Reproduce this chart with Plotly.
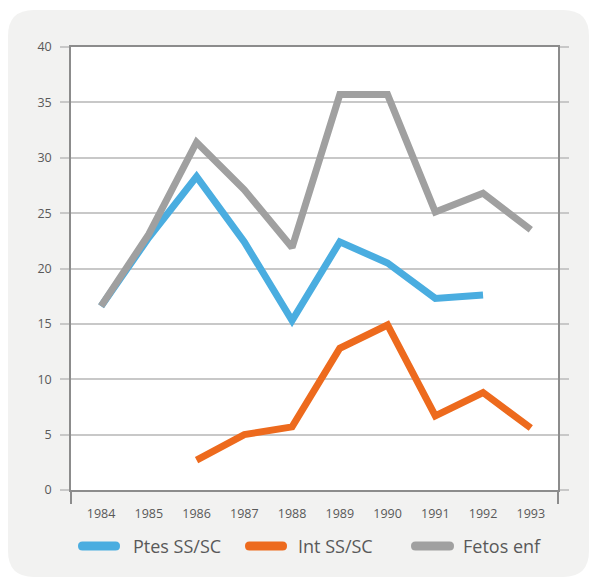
import plotly.graph_objects as go

# Yearly series
years = [1984, 1985, 1986, 1987, 1988, 1989, 1990, 1991, 1992, 1993]
ptes_ss_sc = [16.6, 22.8, 28.3, 22.4, 15.3, 22.4, 20.5, 17.3, 17.6, None]
int_ss_sc = [None, None, 2.7, 5.0, 5.7, 12.8, 14.9, 6.7, 8.8, 5.6]
fetos_enf = [16.6, 23.1, 31.4, 27.1, 21.9, 35.7, 35.7, 25.1, 26.8, 23.5]

series = [
    ("Ptes SS/SC", ptes_ss_sc, "#4aade0"),
    ("Int SS/SC", int_ss_sc, "#ed6a1d"),
    ("Fetos enf", fetos_enf, "#a0a0a0"),
]

W, H = 589, 577
ML, MR, MT, MB = 71, 31, 47, 87
pw, ph = W - ML - MR, H - MT - MB

def px(x):
    return (x - ML) / pw

def py(y):
    return (H - MB - y) / ph

fig = go.Figure()
for name, vals, color in series:
    fig.add_trace(go.Scatter(
        x=years, y=vals, name=name, mode="lines",
        line=dict(color=color, width=7),
        connectgaps=False, showlegend=False,
    ))

def rounded_rect(x0, y0, x1, y1, r):
    return (
        f"M {px(x0 + r)},{py(y0)} L {px(x1 - r)},{py(y0)} "
        f"Q {px(x1)},{py(y0)} {px(x1)},{py(y0 + r)} "
        f"L {px(x1)},{py(y1 - r)} Q {px(x1)},{py(y1)} {px(x1 - r)},{py(y1)} "
        f"L {px(x0 + r)},{py(y1)} Q {px(x0)},{py(y1)} {px(x0)},{py(y1 - r)} "
        f"L {px(x0)},{py(y0 + r)} Q {px(x0)},{py(y0)} {px(x0 + r)},{py(y0)} Z"
    )

# Rounded light panel behind the chart, then the white plotting area
fig.add_shape(type="path", path=rounded_rect(8, 10, 589, 577, 26),
              xref="paper", yref="paper",
              fillcolor="#f2f2f1", line=dict(width=0), layer="below")
fig.add_shape(type="rect", x0=0, x1=1, y0=0, y1=1, xref="paper", yref="paper",
              fillcolor="white", line=dict(width=0), layer="below")

# Legend row: rounded swatches with labels
font = "Open Sans, DejaVu Sans, sans-serif"
legend_x = [(78, 120, 131), (245, 287, 296), (411, 454, 461)]
ly = 546
for (name, _, color), (sx0, sx1, tx) in zip(series, legend_x):
    fig.add_shape(type="path", path=rounded_rect(sx0, ly - 4.5, sx1, ly + 4.5, 4.5),
                  xref="paper", yref="paper", fillcolor=color,
                  line=dict(width=0), layer="above")
    fig.add_annotation(text=name, x=px(tx), y=py(ly), xref="paper", yref="paper",
                       xanchor="left", yanchor="middle", showarrow=False,
                       font=dict(size=18, color="#595959", family=font))

fig.update_layout(
    width=W, height=H,
    margin=dict(l=ML, r=MR, t=MT, b=MB),
    paper_bgcolor="white", plot_bgcolor="white",
    font=dict(family=font, color="#595959", size=12),
    showlegend=False,
    xaxis=dict(
        range=[1983.37, 1993.57],
        tickmode="array", tickvals=years, ticktext=[str(y) for y in years],
        ticks="", showgrid=False, zeroline=False,
        showline=True, linecolor="#8c8c8c", linewidth=1.5, mirror=True,
        tickfont=dict(size=12.5, color="#595959"), ticklabelstandoff=11,
        minor=dict(tickmode="array", tickvals=[1983.37, 1993.57], ticks="outside",
                   ticklen=12, tickcolor="#8c8c8c", tickwidth=1.5, showgrid=False),
        automargin=False,
    ),
    yaxis=dict(
        range=[0, 40], tickmode="array", tickvals=list(range(0, 41, 5)),
        ticks="outside", ticklen=9, tickcolor="#c8c8c8", tickwidth=1.5,
        showgrid=True, gridcolor="#c8c8c8", gridwidth=1.5,
        zeroline=False, showline=True, linecolor="#8c8c8c", linewidth=1.5,
        mirror="ticks", ticklabelstandoff=6,
        tickfont=dict(size=12.5, color="#595959"), automargin=False,
    ),
)

fig.write_html("out.html")
